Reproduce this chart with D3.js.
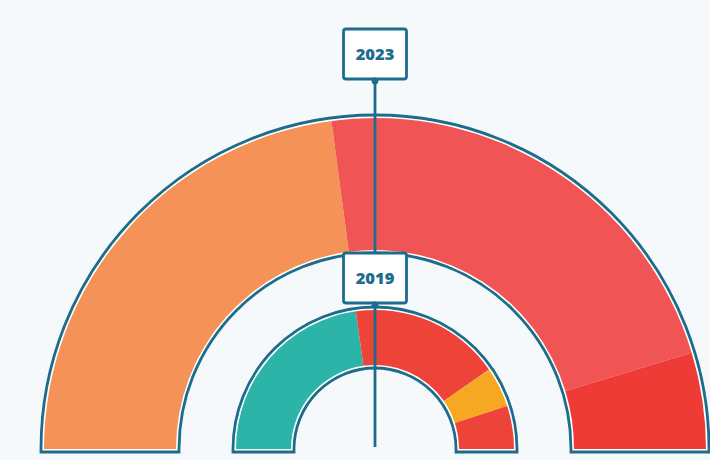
<!DOCTYPE html>
<html>
<head>
<meta charset="utf-8">
<script src="https://cdn.jsdelivr.net/npm/d3@7"></script>
<style>
  html, body { margin: 0; padding: 0; background: #f5f9fc; }
  svg { display: block; }
</style>
</head>
<body>
<svg id="chart" width="710" height="460"></svg>
<script>
// seat shares (left to right)
const years = ["2023", "2019"];
const shares2023 = [45.8, 44.8, 9.4];
const colors2023 = ["#f59258", "#f05454", "#ee3b35"];
const shares2019 = [45.6, 35.0, 9.4, 10.0];
const colors2019 = ["#2cb4a9", "#ee4338", "#f7a823", "#ee4338"];

const W = 710, H = 460;
const cx = 375, cy = 449;
const ink = "#1c6d8b";

const svg = d3.select("#chart");

const pie = d3.pie()
    .sort(null)
    .value(d => d)
    .startAngle(-Math.PI / 2)
    .endAngle(Math.PI / 2);

// outline round the band, a few px off the fill, with a flat foot
const bandOutline = (r0, r1, pad) => {
    const p = d3.path();
    const R = r1 + pad, r = r0 - pad;
    p.moveTo(cx - R, cy + pad);
    p.lineTo(cx - R, cy);
    p.arc(cx, cy, R, Math.PI, 0);
    p.lineTo(cx + R, cy + pad);
    p.lineTo(cx + r, cy + pad);
    p.lineTo(cx + r, cy);
    p.arc(cx, cy, r, 0, Math.PI, true);
    p.lineTo(cx - r, cy + pad);
    p.closePath();
    return p.toString();
};

const drawBand = (values, colors, r0, r1) => {
    let g = svg.append("g");

    g.append("path")
        .attr("d", bandOutline(r0, r1, 3))
        .attr("fill", "#ffffff")
        .attr("stroke", ink)
        .attr("stroke-width", 2.8);

    let arc = d3.arc().innerRadius(r0).outerRadius(r1);

    g.append("g")
        .attr("transform", `translate(${cx},${cy})`)
        .selectAll("path")
        .data(pie(values))
        .enter()
        .append("path")
        .attr("d", arc)
        .attr("fill", (d, i) => colors[i]);
};

drawBand(shares2023, colors2023, 199, 331);
drawBand(shares2019, colors2019, 84, 139);

// the pole
svg.append("line")
    .attr("x1", cx).attr("x2", cx)
    .attr("y1", 80).attr("y2", 447)
    .attr("stroke", ink)
    .attr("stroke-width", 2.8);

// year tags
const tags = [
    { year: years[0], y: 29 },
    { year: years[1], y: 253 }
];
const tagW = 63, tagH = 50;

let t = svg.selectAll(".tag")
    .data(tags)
    .enter()
    .append("g")
    .attr("class", "tag");

t.append("rect")
    .attr("x", cx - tagW / 2)
    .attr("y", d => d.y)
    .attr("width", tagW)
    .attr("height", tagH)
    .attr("rx", 2.5)
    .attr("fill", "#ffffff")
    .attr("stroke", ink)
    .attr("stroke-width", 2.8);

t.append("circle")
    .attr("cx", cx)
    .attr("cy", d => d.y + tagH + 2)
    .attr("r", 3.4)
    .attr("fill", ink);

t.append("text")
    .attr("x", cx)
    .attr("y", d => d.y + tagH / 2 + 6)
    .attr("text-anchor", "middle")
    .attr("font-family", "Open Sans, sans-serif")
    .attr("font-weight", 800)
    .attr("font-size", 16.5)
    .attr("fill", ink)
    .text(d => d.year);
</script>
</body>
</html>
